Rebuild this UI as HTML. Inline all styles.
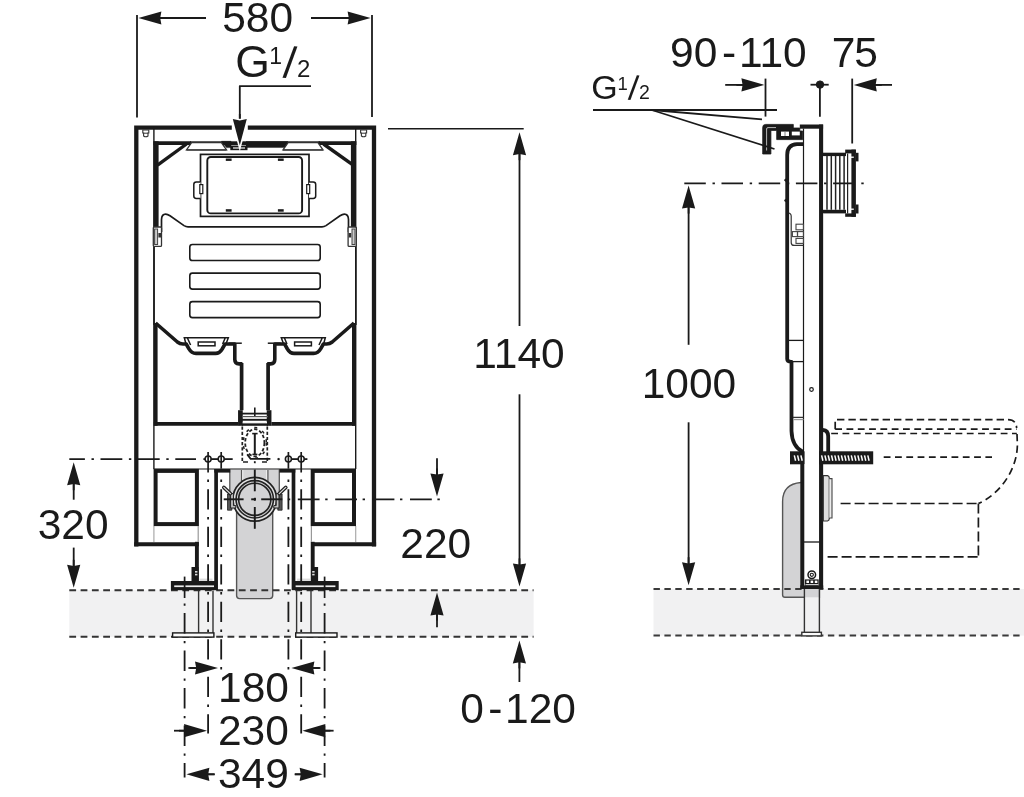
<!DOCTYPE html>
<html lang="en">
<head>
<meta charset="utf-8">
<title>Technical drawing</title>
<style>
html,body{margin:0;padding:0;background:#fff;}
body{width:1024px;height:797px;overflow:hidden;}
svg{display:block;will-change:transform;}
svg text{font-family:"Liberation Sans",sans-serif;fill:#1a1a1a;}
</style>
</head>
<body>
<svg width="1024" height="797" viewBox="0 0 1024 797">
<rect x="0" y="0" width="1024" height="797" fill="#ffffff"/>
<rect x="69.3" y="590.2" width="464.3" height="46.6" fill="#f1f1f2"/>
<rect x="229.6" y="469.5" width="49.8" height="40" fill="#d3d3d5"/>
<line x1="229.8" y1="469.5" x2="229.8" y2="509" stroke="#555" stroke-width="1.3" stroke-linecap="butt"/>
<line x1="279.3" y1="469.5" x2="279.3" y2="509" stroke="#555" stroke-width="1.3" stroke-linecap="butt"/>
<path d="M236.6,500 L236.6,595.6 Q236.6,598.6 239.6,598.6 L269.7,598.6 Q272.7,598.6 272.7,595.6 L272.7,500" fill="#d3d3d5" stroke="#555" stroke-width="1.4" stroke-linejoin="miter" stroke-linecap="butt"/>
<line x1="241.5" y1="470" x2="241.5" y2="483" stroke="#555" stroke-width="1.2" stroke-linecap="butt"/>
<line x1="267.9" y1="470" x2="267.9" y2="483" stroke="#555" stroke-width="1.2" stroke-linecap="butt"/>
<line x1="242.8" y1="470" x2="242.8" y2="482" stroke="#f0f0f0" stroke-width="1" stroke-linecap="butt"/>
<line x1="266.6" y1="470" x2="266.6" y2="482" stroke="#f0f0f0" stroke-width="1" stroke-linecap="butt"/>
<line x1="69.3" y1="590.2" x2="533.6" y2="590.2" stroke="#333" stroke-width="2" stroke-dasharray="6.8 4.5" stroke-linecap="butt"/>
<line x1="69.3" y1="636.8" x2="533.6" y2="636.8" stroke="#333" stroke-width="2" stroke-dasharray="6.8 4.5" stroke-linecap="butt"/>
<path d="M136.3,546.4 L136.3,127.6 L374,127.6 L374,546.4" fill="none" stroke="#1a1a1a" stroke-width="4.3" stroke-linejoin="miter" stroke-linecap="butt"/>
<line x1="153.9" y1="129" x2="153.9" y2="469" stroke="#1a1a1a" stroke-width="1.4" stroke-linecap="butt"/>
<line x1="355.7" y1="129" x2="355.7" y2="469" stroke="#1a1a1a" stroke-width="1.4" stroke-linecap="butt"/>
<line x1="153.9" y1="526" x2="153.9" y2="542" stroke="#aaa" stroke-width="1.2" stroke-linecap="butt"/>
<line x1="355.7" y1="526" x2="355.7" y2="542" stroke="#aaa" stroke-width="1.2" stroke-linecap="butt"/>
<line x1="134.2" y1="544.3" x2="198.8" y2="544.3" stroke="#1a1a1a" stroke-width="4" stroke-linecap="butt"/>
<line x1="376.1" y1="544.3" x2="311" y2="544.3" stroke="#1a1a1a" stroke-width="4" stroke-linecap="butt"/>
<line x1="388" y1="128.8" x2="523.7" y2="128.8" stroke="#1a1a1a" stroke-width="1.6" stroke-linecap="butt"/>
<path d="M142.8,130 L148.8,130 L148.8,133 L148.0,133 L148.0,136 Q145.8,137.6 143.60000000000002,136 L143.60000000000002,133 L142.8,133 Z" fill="#fff" stroke="#333" stroke-width="1.1" stroke-linejoin="miter" stroke-linecap="butt"/>
<line x1="143.60000000000002" y1="133.2" x2="148.0" y2="133.2" stroke="#333" stroke-width="1" stroke-linecap="butt"/>
<path d="M360.6,130 L366.6,130 L366.6,133 L365.8,133 L365.8,136 Q363.6,137.6 361.40000000000003,136 L361.40000000000003,133 L360.6,133 Z" fill="#fff" stroke="#333" stroke-width="1.1" stroke-linejoin="miter" stroke-linecap="butt"/>
<line x1="361.40000000000003" y1="133.2" x2="365.8" y2="133.2" stroke="#333" stroke-width="1" stroke-linecap="butt"/>
<line x1="153.5" y1="143.2" x2="191" y2="143.2" stroke="#1a1a1a" stroke-width="3.8" stroke-linecap="butt"/>
<line x1="318.6" y1="143.2" x2="356.4" y2="143.2" stroke="#1a1a1a" stroke-width="3.8" stroke-linecap="butt"/>
<line x1="156.05" y1="141.3" x2="156.05" y2="227" stroke="#1a1a1a" stroke-width="5.1" stroke-linecap="butt"/>
<line x1="353.45" y1="141.3" x2="353.45" y2="227" stroke="#1a1a1a" stroke-width="5.1" stroke-linecap="butt"/>
<line x1="157.5" y1="165.2" x2="186.5" y2="144" stroke="#1a1a1a" stroke-width="3.4" stroke-linecap="butt"/>
<line x1="352.5" y1="164.6" x2="323.5" y2="144" stroke="#1a1a1a" stroke-width="3.4" stroke-linecap="butt"/>
<rect x="190" y="141.3" width="130" height="3.8" fill="#1a1a1a"/>
<path d="M221.4,141.3 L231,141.3 L231,147.6 L226.5,147.6 Z" fill="#1a1a1a" stroke="#1a1a1a" stroke-width="0.5" stroke-linejoin="miter" stroke-linecap="butt"/>
<rect x="246" y="141.3" width="42" height="6.4" fill="#1a1a1a"/>
<path d="M283,149.8 L288.1,142.6 L317.9,142.6 L323,149.8 Z" fill="#fff" stroke="#333" stroke-width="1.3" stroke-linejoin="miter" stroke-linecap="butt"/>
<path d="M186.5,149.8 L191.6,142.6 L221.4,142.6 L226.5,149.8 Z" fill="#fff" stroke="#333" stroke-width="1.3" stroke-linejoin="miter" stroke-linecap="butt"/>
<line x1="186.5" y1="150" x2="226.5" y2="150" stroke="#444" stroke-width="1.5" stroke-linecap="butt"/>
<line x1="283" y1="150" x2="323" y2="150" stroke="#444" stroke-width="1.5" stroke-linecap="butt"/>
<rect x="231.8" y="124.5" width="16" height="6" fill="#fff"/>
<rect x="230.3" y="145.6" width="17.2" height="4.6" fill="#1a1a1a"/>
<rect x="233" y="147.2" width="12" height="1.6" fill="#bbb"/>
<rect x="200.5" y="154.4" width="108.5" height="62" fill="#fff" stroke="#1a1a1a" stroke-width="1.7"/>
<rect x="207.3" y="157" width="94.8" height="56.4" fill="#fff" stroke="#1a1a1a" stroke-width="1.9" rx="3.5"/>
<rect x="225.8" y="158.5" width="5.8" height="2.4" fill="#1a1a1a"/>
<rect x="225.8" y="209.2" width="5.8" height="2.5" fill="#1a1a1a"/>
<rect x="277.9" y="158.5" width="5.8" height="2.4" fill="#1a1a1a"/>
<rect x="277.9" y="209.2" width="5.8" height="2.5" fill="#1a1a1a"/>
<path d="M200.5,182 L196.3,182 Q193.8,182 193.8,184.5 L193.8,196 Q193.8,198.4 196.3,198.4 L200.5,198.4" fill="#fff" stroke="#1a1a1a" stroke-width="1.5" stroke-linejoin="miter" stroke-linecap="butt"/>
<rect x="199.8" y="184.6" width="3" height="9" fill="#fff" stroke="#1a1a1a" stroke-width="1.2"/>
<path d="M309.0,182 L313.2,182 Q315.7,182 315.7,184.5 L315.7,196 Q315.7,198.4 313.2,198.4 L309.0,198.4" fill="#fff" stroke="#1a1a1a" stroke-width="1.5" stroke-linejoin="miter" stroke-linecap="butt"/>
<rect x="306.7" y="184.6" width="3" height="9" fill="#fff" stroke="#1a1a1a" stroke-width="1.2"/>
<path d="M161.5,232 L161.5,219.5 Q161.7,214.1 165.6,214.1 Q167.6,214.1 170,215.8 L184,225.6 Q185.9,226.8 188,226.8 L322,226.8 Q324.1,226.8 326,225.6 L340,215.8 Q342.4,214.1 344.4,214.1 Q348.3,214.1 348.5,219.5 L348.5,232" fill="none" stroke="#1a1a1a" stroke-width="1.7" stroke-linejoin="miter" stroke-linecap="butt"/>
<line x1="154.1" y1="227" x2="154.1" y2="325" stroke="#1a1a1a" stroke-width="1.5" stroke-linecap="butt"/>
<line x1="355.9" y1="227" x2="355.9" y2="325" stroke="#1a1a1a" stroke-width="1.5" stroke-linecap="butt"/>
<rect x="153.3" y="227" width="8.2" height="19.4" fill="#fff" stroke="#333" stroke-width="1.3" rx="1"/>
<rect x="154.6" y="229" width="3" height="15.5" fill="#ccc" stroke="#444" stroke-width="1"/>
<rect x="158.4" y="233" width="2.6" height="4.5" fill="#333"/>
<rect x="348.1" y="227" width="8.2" height="19.4" fill="#fff" stroke="#333" stroke-width="1.3" rx="1"/>
<rect x="352.0" y="229" width="3" height="15.5" fill="#ccc" stroke="#444" stroke-width="1"/>
<rect x="348.6" y="233" width="2.6" height="4.5" fill="#333"/>
<rect x="189.8" y="244.5" width="130.4" height="16" fill="none" stroke="#1a1a1a" stroke-width="1.6" rx="2.6"/>
<rect x="189.8" y="273.1" width="130.4" height="16" fill="none" stroke="#1a1a1a" stroke-width="1.6" rx="2.6"/>
<rect x="189.8" y="301.6" width="130.4" height="16" fill="none" stroke="#1a1a1a" stroke-width="1.6" rx="2.6"/>
<line x1="155.7" y1="323" x2="155.7" y2="425.8" stroke="#1a1a1a" stroke-width="3.8" stroke-linecap="butt"/>
<line x1="353.9" y1="323" x2="353.9" y2="425.8" stroke="#1a1a1a" stroke-width="3.8" stroke-linecap="butt"/>
<line x1="153.8" y1="423.9" x2="240" y2="423.9" stroke="#1a1a1a" stroke-width="3.8" stroke-linecap="butt"/>
<line x1="355.8" y1="423.9" x2="269.6" y2="423.9" stroke="#1a1a1a" stroke-width="3.8" stroke-linecap="butt"/>
<path d="M155.6,323 L177.4,342 Q179.8,344 183,344 L186.2,344 L188.8,348.6 Q191.6,353.4 196,353.4 L215.6,353.4 Q219.6,353.4 222.2,349 L225,344 L234.8,344 L234.8,359.6 Q234.8,363.9 239,363.9 L242.4,363.9" fill="none" stroke="#1a1a1a" stroke-width="3.6" stroke-linejoin="round" stroke-linecap="butt"/>
<path d="M354.0,323 L332.20000000000005,342 Q329.8,344 326.6,344 L323.40000000000003,344 L320.8,348.6 Q318.0,353.4 313.6,353.4 L294.0,353.4 Q290.0,353.4 287.40000000000003,349 L284.6,344 L274.8,344 L274.8,359.6 Q274.8,363.9 270.6,363.9 L267.20000000000005,363.9" fill="none" stroke="#1a1a1a" stroke-width="3.6" stroke-linejoin="round" stroke-linecap="butt"/>
<path d="M186,344 L184.3,337.8 L228.3,337.8 L226,344 M187.4,338 L190.6,345 M225.2,338 L222.6,344" fill="none" stroke="#1a1a1a" stroke-width="1.5" stroke-linejoin="miter" stroke-linecap="butt"/>
<rect x="198.2" y="342" width="16.8" height="3.8" fill="#fff" stroke="#1a1a1a" stroke-width="1.5"/>
<line x1="228.9" y1="343.2" x2="241.8" y2="343.2" stroke="#1a1a1a" stroke-width="1.5" stroke-linecap="butt"/>
<path d="M323.6,344 L325.3,337.8 L281.3,337.8 L283.6,344 M322.20000000000005,338 L319.0,345 M284.40000000000003,338 L287.0,344" fill="none" stroke="#1a1a1a" stroke-width="1.5" stroke-linejoin="miter" stroke-linecap="butt"/>
<rect x="294.6" y="342" width="16.8" height="3.8" fill="#fff" stroke="#1a1a1a" stroke-width="1.5"/>
<line x1="280.70000000000005" y1="343.2" x2="267.8" y2="343.2" stroke="#1a1a1a" stroke-width="1.5" stroke-linecap="butt"/>
<line x1="241.6" y1="363" x2="241.6" y2="411" stroke="#1a1a1a" stroke-width="3.7" stroke-linecap="butt"/>
<line x1="268.1" y1="363" x2="268.1" y2="411" stroke="#1a1a1a" stroke-width="3.7" stroke-linecap="butt"/>
<rect x="238.1" y="410.2" width="33.3" height="15.6" fill="#fff"/>
<line x1="240.4" y1="410.2" x2="240.4" y2="425.8" stroke="#1a1a1a" stroke-width="4.7" stroke-linecap="butt"/>
<line x1="269.1" y1="410.2" x2="269.1" y2="425.8" stroke="#1a1a1a" stroke-width="4.7" stroke-linecap="butt"/>
<line x1="242" y1="413.6" x2="268" y2="413.6" stroke="#1a1a1a" stroke-width="1.8" stroke-linecap="butt"/>
<line x1="242" y1="416.6" x2="268" y2="416.6" stroke="#555" stroke-width="1.2" stroke-linecap="butt"/>
<line x1="242" y1="419.8" x2="268" y2="419.8" stroke="#1a1a1a" stroke-width="1.9" stroke-linecap="butt"/>
<line x1="242" y1="423.9" x2="268" y2="423.9" stroke="#1a1a1a" stroke-width="3.8" stroke-linecap="butt"/>
<line x1="242.6" y1="422.7" x2="267" y2="422.7" stroke="#fff" stroke-width="1.3" stroke-linecap="butt"/>
<line x1="254.8" y1="407.5" x2="254.8" y2="416" stroke="#1a1a1a" stroke-width="1.6" stroke-linecap="butt"/>
<path d="M242.3,426.5 L242.3,462.2 M267.3,426.5 L267.3,462.2" fill="none" stroke="#222" stroke-width="1.7" stroke-linejoin="miter" stroke-linecap="butt" stroke-dasharray="3.2 2"/>
<line x1="243" y1="462" x2="248" y2="462" stroke="#222" stroke-width="1.5" stroke-linecap="butt"/>
<line x1="262" y1="462" x2="267" y2="462" stroke="#222" stroke-width="1.5" stroke-linecap="butt"/>
<ellipse cx="254.8" cy="442.8" rx="9.6" ry="13.6" fill="none" stroke="#222" stroke-width="1.8" stroke-dasharray="3.4 2"/>
<ellipse cx="254.8" cy="442.8" rx="11.6" ry="15.4" fill="none" stroke="#222" stroke-width="1.5" stroke-dasharray="3 6"/>
<line x1="254.8" y1="433.3" x2="254.8" y2="454" stroke="#1a1a1a" stroke-width="2" stroke-linecap="butt"/>
<line x1="252.2" y1="433.6" x2="257.6" y2="433.6" stroke="#1a1a1a" stroke-width="1.6" stroke-linecap="butt"/>
<line x1="252.4" y1="454.4" x2="257.4" y2="454.4" stroke="#1a1a1a" stroke-width="1.6" stroke-linecap="butt"/>
<path d="M247.4,454.6 L250.6,458.9 L270.4,458.9" fill="none" stroke="#1a1a1a" stroke-width="1.8" stroke-linejoin="miter" stroke-linecap="butt"/>
<line x1="254.8" y1="461.2" x2="254.8" y2="463.2" stroke="#1a1a1a" stroke-width="1.8" stroke-linecap="butt"/>
<line x1="54" y1="459.1" x2="196" y2="459.1" stroke="#1a1a1a" stroke-width="1.7" stroke-dasharray="2.4 6.6 21.8 6.6" stroke-dashoffset="-0.1"/>
<rect x="50" y="455" width="19.3" height="8" fill="#fff"/>
<line x1="203.4" y1="459.1" x2="232.7" y2="459.1" stroke="#1a1a1a" stroke-width="1.8" stroke-linecap="butt"/>
<line x1="284.9" y1="459.1" x2="307.4" y2="459.1" stroke="#1a1a1a" stroke-width="1.8" stroke-linecap="butt"/>
<circle cx="278.6" cy="459.1" r="1.2" fill="#1a1a1a" stroke="#1a1a1a" stroke-width="0.1"/>
<circle cx="208.1" cy="459.1" r="3.0" fill="#fff" stroke="#1a1a1a" stroke-width="1.5"/>
<line x1="208.1" y1="452" x2="208.1" y2="472.5" stroke="#1a1a1a" stroke-width="1.7" stroke-linecap="butt"/>
<circle cx="221.2" cy="459.1" r="3.0" fill="#fff" stroke="#1a1a1a" stroke-width="1.5"/>
<line x1="221.2" y1="452" x2="221.2" y2="468.7" stroke="#1a1a1a" stroke-width="1.7" stroke-linecap="butt"/>
<circle cx="288.4" cy="459.1" r="3.0" fill="#fff" stroke="#1a1a1a" stroke-width="1.5"/>
<line x1="288.4" y1="452" x2="288.4" y2="468.7" stroke="#1a1a1a" stroke-width="1.7" stroke-linecap="butt"/>
<circle cx="301.2" cy="459.1" r="3.0" fill="#fff" stroke="#1a1a1a" stroke-width="1.5"/>
<line x1="301.2" y1="452" x2="301.2" y2="472.5" stroke="#1a1a1a" stroke-width="1.7" stroke-linecap="butt"/>
<line x1="153.8" y1="469" x2="355.8" y2="469" stroke="#1a1a1a" stroke-width="1.2" stroke-linecap="butt"/>
<rect x="155.6" y="470.9" width="41.3" height="53.2" fill="none" stroke="#1a1a1a" stroke-width="4"/>
<line x1="196.9" y1="541.8" x2="196.9" y2="582" stroke="#1a1a1a" stroke-width="3.9" stroke-linecap="butt"/>
<line x1="198.2" y1="526" x2="198.2" y2="542" stroke="#999" stroke-width="1.2" stroke-linecap="butt"/>
<line x1="216.1" y1="469" x2="216.1" y2="590" stroke="#1a1a1a" stroke-width="3.7" stroke-linecap="butt"/>
<line x1="214.3" y1="470.8" x2="230.2" y2="470.8" stroke="#1a1a1a" stroke-width="3.6" stroke-linecap="butt"/>
<rect x="191.5" y="567" width="7.1" height="15" fill="#1a1a1a"/>
<rect x="195" y="571" width="2.4" height="1.6" fill="#ddd"/>
<rect x="195" y="573.8" width="2.4" height="1.6" fill="#ddd"/>
<rect x="170.9" y="581" width="46.5" height="9.2" fill="#1a1a1a"/>
<rect x="174.2" y="585.4" width="39.8" height="1.7" fill="#eee"/>
<rect x="199.5" y="578.6" width="13" height="2.4" fill="#ddd"/>
<line x1="198.6" y1="590.5" x2="198.6" y2="633" stroke="#333" stroke-width="1.4" stroke-linecap="butt"/>
<line x1="213" y1="590.5" x2="213" y2="633" stroke="#333" stroke-width="1.4" stroke-linecap="butt"/>
<rect x="172.6" y="632.9" width="41.3" height="4.2" fill="#fafafa" stroke="#1a1a1a" stroke-width="1.4"/>
<rect x="312.70000000000005" y="470.9" width="41.3" height="53.2" fill="none" stroke="#1a1a1a" stroke-width="4"/>
<line x1="312.70000000000005" y1="541.8" x2="312.70000000000005" y2="582" stroke="#1a1a1a" stroke-width="3.9" stroke-linecap="butt"/>
<line x1="311.40000000000003" y1="526" x2="311.40000000000003" y2="542" stroke="#999" stroke-width="1.2" stroke-linecap="butt"/>
<line x1="293.5" y1="469" x2="293.5" y2="590" stroke="#1a1a1a" stroke-width="3.7" stroke-linecap="butt"/>
<line x1="295.3" y1="470.8" x2="279.40000000000003" y2="470.8" stroke="#1a1a1a" stroke-width="3.6" stroke-linecap="butt"/>
<rect x="311.0" y="567" width="7.1" height="15" fill="#1a1a1a"/>
<rect x="312.20000000000005" y="571" width="2.4" height="1.6" fill="#ddd"/>
<rect x="312.20000000000005" y="573.8" width="2.4" height="1.6" fill="#ddd"/>
<rect x="292.20000000000005" y="581" width="46.5" height="9.2" fill="#1a1a1a"/>
<rect x="295.6" y="585.4" width="39.8" height="1.7" fill="#eee"/>
<rect x="297.1" y="578.6" width="13" height="2.4" fill="#ddd"/>
<line x1="311.0" y1="590.5" x2="311.0" y2="633" stroke="#333" stroke-width="1.4" stroke-linecap="butt"/>
<line x1="296.6" y1="590.5" x2="296.6" y2="633" stroke="#333" stroke-width="1.4" stroke-linecap="butt"/>
<rect x="295.70000000000005" y="632.9" width="41.3" height="4.2" fill="#fafafa" stroke="#1a1a1a" stroke-width="1.4"/>
<circle cx="254.75" cy="499.3" r="21.9" fill="#e2e2e3" stroke="#222" stroke-width="1.7"/>
<circle cx="254.75" cy="499.3" r="18.7" fill="#d0d0d2" stroke="#222" stroke-width="1.6"/>
<circle cx="254.75" cy="499.3" r="16.1" fill="#d3d3d5" stroke="#222" stroke-width="1.6"/>
<path d="M227.5,494 L231.8,494 L231.8,510.2 L227.5,510.2 Z" fill="#555" stroke="#222" stroke-width="0.8" stroke-linejoin="miter" stroke-linecap="butt"/>
<path d="M230.6,493.6 L233.4,493.6 L233.4,505.6 L235.8,505.6 L235.8,508 L230.6,508 Z" fill="#c4c4c4" stroke="#222" stroke-width="1" stroke-linejoin="miter" stroke-linecap="butt"/>
<line x1="223.8" y1="487.4" x2="230.4" y2="493.6" stroke="#222" stroke-width="3.6" stroke-linecap="round"/>
<line x1="223.8" y1="487.4" x2="230.4" y2="493.6" stroke="#ddd" stroke-width="1.3" stroke-linecap="round"/>
<path d="M282.1,494 L277.8,494 L277.8,510.2 L282.1,510.2 Z" fill="#555" stroke="#222" stroke-width="0.8" stroke-linejoin="miter" stroke-linecap="butt"/>
<path d="M279.0,493.6 L276.20000000000005,493.6 L276.20000000000005,505.6 L273.8,505.6 L273.8,508 L279.0,508 Z" fill="#c4c4c4" stroke="#222" stroke-width="1" stroke-linejoin="miter" stroke-linecap="butt"/>
<line x1="285.8" y1="487.4" x2="279.20000000000005" y2="493.6" stroke="#222" stroke-width="3.6" stroke-linecap="round"/>
<line x1="285.8" y1="487.4" x2="279.20000000000005" y2="493.6" stroke="#ddd" stroke-width="1.3" stroke-linecap="round"/>
<line x1="254.8" y1="469.6" x2="254.8" y2="491.3" stroke="#1a1a1a" stroke-width="1.9" stroke-linecap="butt"/>
<line x1="254.8" y1="497.8" x2="254.8" y2="500.8" stroke="#1a1a1a" stroke-width="1.9" stroke-linecap="butt"/>
<line x1="254.8" y1="507" x2="254.8" y2="528.8" stroke="#1a1a1a" stroke-width="1.9" stroke-linecap="butt"/>
<line x1="223.7" y1="499.3" x2="243.6" y2="499.3" stroke="#1a1a1a" stroke-width="1.9" stroke-linecap="butt"/>
<line x1="251.2" y1="499.3" x2="256" y2="499.3" stroke="#1a1a1a" stroke-width="1.9" stroke-linecap="butt"/>
<line x1="261.2" y1="499.3" x2="282.3" y2="499.3" stroke="#1a1a1a" stroke-width="1.9" stroke-linecap="butt"/>
<line x1="287.8" y1="499.3" x2="440" y2="499.3" stroke="#1a1a1a" stroke-width="1.7" stroke-dasharray="2.4 7.6 21.8 5.6"/>
<line x1="208.1" y1="479.5" x2="208.1" y2="733.5" stroke="#1a1a1a" stroke-width="1.8" stroke-dasharray="2.4 7.3 20.4 7.4"/>
<line x1="301.2" y1="479.5" x2="301.2" y2="733.5" stroke="#1a1a1a" stroke-width="1.8" stroke-dasharray="2.4 7.3 20.4 7.4"/>
<line x1="221.2" y1="479.5" x2="221.2" y2="669.5" stroke="#1a1a1a" stroke-width="1.8" stroke-dasharray="2.4 7.3 20.4 7.4"/>
<line x1="288.4" y1="479.5" x2="288.4" y2="669.5" stroke="#1a1a1a" stroke-width="1.8" stroke-dasharray="2.4 7.3 20.4 7.4"/>
<line x1="184.6" y1="576.6" x2="184.6" y2="598" stroke="#1a1a1a" stroke-width="1.7" stroke-linecap="butt"/>
<line x1="184.6" y1="603.4" x2="184.6" y2="777.6" stroke="#1a1a1a" stroke-width="1.8" stroke-dasharray="2.4 7.3 20.4 7.4"/>
<line x1="324.6" y1="576.6" x2="324.6" y2="598" stroke="#1a1a1a" stroke-width="1.7" stroke-linecap="butt"/>
<line x1="324.6" y1="603.4" x2="324.6" y2="777.6" stroke="#1a1a1a" stroke-width="1.8" stroke-dasharray="2.4 7.3 20.4 7.4"/>
<line x1="137" y1="15" x2="137" y2="117.5" stroke="#1a1a1a" stroke-width="1.8" stroke-linecap="butt"/>
<line x1="372" y1="15" x2="372" y2="117" stroke="#1a1a1a" stroke-width="1.8" stroke-linecap="butt"/>
<line x1="160" y1="18" x2="206" y2="18" stroke="#1a1a1a" stroke-width="1.8" stroke-linecap="butt"/>
<line x1="158.40" y1="18.00" x2="166.40" y2="18.00" stroke="#1a1a1a" stroke-width="1.8"/>
<polygon points="138.40,18.00 161.40,11.40 160.20,18.00 161.40,24.60" fill="#1a1a1a"/>
<line x1="311" y1="18" x2="350" y2="18" stroke="#1a1a1a" stroke-width="1.8" stroke-linecap="butt"/>
<line x1="350.60" y1="18.00" x2="342.60" y2="18.00" stroke="#1a1a1a" stroke-width="1.8"/>
<polygon points="370.60,18.00 347.60,24.60 348.80,18.00 347.60,11.40" fill="#1a1a1a"/>
<text x="257.70" y="32.28" font-size="42.5" text-anchor="middle">580</text>
<line x1="239.1" y1="86.1" x2="311" y2="86.1" stroke="#1a1a1a" stroke-width="1.8" stroke-linecap="butt"/>
<line x1="239.8" y1="86" x2="239.8" y2="122" stroke="#1a1a1a" stroke-width="1.8" stroke-linecap="butt"/>
<line x1="239.80" y1="122.00" x2="239.80" y2="114.00" stroke="#1a1a1a" stroke-width="1.8"/>
<polygon points="239.80,145.30 232.80,119.00 239.80,120.50 246.80,119.00" fill="#1a1a1a" stroke="#fff" stroke-width="3.2" paint-order="stroke" stroke-linejoin="miter"/>
<text x="235.3" y="77.2" font-size="44.5">G<tspan font-size="23" dy="-12.9" dx="-0.6">1</tspan><tspan font-size="44" dy="13" dx="0.4" rotate="5">/</tspan><tspan font-size="24" dy="-0.5" dx="2.2">2</tspan></text>
<line x1="519.5" y1="150" x2="519.5" y2="326" stroke="#1a1a1a" stroke-width="1.8" stroke-linecap="butt"/>
<line x1="519.50" y1="152.20" x2="519.50" y2="160.20" stroke="#1a1a1a" stroke-width="1.8"/>
<polygon points="519.50,132.20 526.10,155.20 519.50,154.00 512.90,155.20" fill="#1a1a1a"/>
<line x1="519.5" y1="394.3" x2="519.5" y2="566" stroke="#1a1a1a" stroke-width="1.8" stroke-linecap="butt"/>
<line x1="519.50" y1="566.40" x2="519.50" y2="558.40" stroke="#1a1a1a" stroke-width="1.8"/>
<polygon points="519.50,586.40 512.90,563.40 519.50,564.60 526.10,563.40" fill="#1a1a1a"/>
<text x="519.05" y="368.36" font-size="42.5" text-anchor="middle">1140</text>
<line x1="73.7" y1="480" x2="73.7" y2="499.7" stroke="#1a1a1a" stroke-width="1.8" stroke-linecap="butt"/>
<line x1="73.70" y1="482.20" x2="73.70" y2="490.20" stroke="#1a1a1a" stroke-width="1.8"/>
<polygon points="73.70,462.20 80.30,485.20 73.70,484.00 67.10,485.20" fill="#1a1a1a"/>
<line x1="73.7" y1="547.6" x2="73.7" y2="568" stroke="#1a1a1a" stroke-width="1.8" stroke-linecap="butt"/>
<line x1="73.70" y1="567.80" x2="73.70" y2="559.80" stroke="#1a1a1a" stroke-width="1.8"/>
<polygon points="73.70,587.80 67.10,564.80 73.70,566.00 80.30,564.80" fill="#1a1a1a"/>
<text x="73.10" y="539.14" font-size="42.5" text-anchor="middle">320</text>
<line x1="437" y1="458.2" x2="437" y2="476" stroke="#1a1a1a" stroke-width="1.8" stroke-linecap="butt"/>
<line x1="437.00" y1="476.40" x2="437.00" y2="468.40" stroke="#1a1a1a" stroke-width="1.8"/>
<polygon points="437.00,496.40 430.40,473.40 437.00,474.60 443.60,473.40" fill="#1a1a1a"/>
<line x1="437" y1="611" x2="437" y2="627.2" stroke="#1a1a1a" stroke-width="1.8" stroke-linecap="butt"/>
<line x1="437.00" y1="612.60" x2="437.00" y2="620.60" stroke="#1a1a1a" stroke-width="1.8"/>
<polygon points="437.00,592.60 443.60,615.60 437.00,614.40 430.40,615.60" fill="#1a1a1a"/>
<text x="435.80" y="558.28" font-size="42.5" text-anchor="middle">220</text>
<line x1="519.4" y1="660" x2="519.4" y2="682" stroke="#1a1a1a" stroke-width="1.8" stroke-linecap="butt"/>
<line x1="519.40" y1="660.40" x2="519.40" y2="668.40" stroke="#1a1a1a" stroke-width="1.8"/>
<polygon points="519.40,640.40 526.00,663.40 519.40,662.20 512.80,663.40" fill="#1a1a1a"/>
<text y="722.6" font-size="42.5"><tspan x="460.3">0</tspan><tspan x="488.3">-</tspan><tspan x="505">120</tspan></text>
<line x1="188.4" y1="668" x2="200" y2="668" stroke="#1a1a1a" stroke-width="1.8" stroke-linecap="butt"/>
<line x1="198.00" y1="668.00" x2="190.00" y2="668.00" stroke="#1a1a1a" stroke-width="1.8"/>
<polygon points="218.00,668.00 195.00,674.60 196.20,668.00 195.00,661.40" fill="#1a1a1a"/>
<line x1="309" y1="668" x2="320.4" y2="668" stroke="#1a1a1a" stroke-width="1.8" stroke-linecap="butt"/>
<line x1="311.40" y1="668.00" x2="319.40" y2="668.00" stroke="#1a1a1a" stroke-width="1.8"/>
<polygon points="291.40,668.00 314.40,661.40 313.20,668.00 314.40,674.60" fill="#1a1a1a"/>
<text x="253.50" y="702.14" font-size="42.5" text-anchor="middle">180</text>
<line x1="174" y1="730.7" x2="188" y2="730.7" stroke="#1a1a1a" stroke-width="1.8" stroke-linecap="butt"/>
<line x1="187.00" y1="730.70" x2="179.00" y2="730.70" stroke="#1a1a1a" stroke-width="1.8"/>
<polygon points="207.00,730.70 184.00,737.30 185.20,730.70 184.00,724.10" fill="#1a1a1a"/>
<line x1="321" y1="730.7" x2="333.6" y2="730.7" stroke="#1a1a1a" stroke-width="1.8" stroke-linecap="butt"/>
<line x1="322.40" y1="730.70" x2="330.40" y2="730.70" stroke="#1a1a1a" stroke-width="1.8"/>
<polygon points="302.40,730.70 325.40,724.10 324.20,730.70 325.40,737.30" fill="#1a1a1a"/>
<text x="253.40" y="745.42" font-size="42.5" text-anchor="middle">230</text>
<line x1="205" y1="774.3" x2="214.8" y2="774.3" stroke="#1a1a1a" stroke-width="1.8" stroke-linecap="butt"/>
<line x1="206.40" y1="774.30" x2="214.40" y2="774.30" stroke="#1a1a1a" stroke-width="1.8"/>
<polygon points="186.40,774.30 209.40,767.70 208.20,774.30 209.40,780.90" fill="#1a1a1a"/>
<line x1="295" y1="774.3" x2="304" y2="774.3" stroke="#1a1a1a" stroke-width="1.8" stroke-linecap="butt"/>
<line x1="302.60" y1="774.30" x2="294.60" y2="774.30" stroke="#1a1a1a" stroke-width="1.8"/>
<polygon points="322.60,774.30 299.60,780.90 300.80,774.30 299.60,767.70" fill="#1a1a1a"/>
<text x="253.40" y="788.42" font-size="42.5" text-anchor="middle">349</text>
<rect x="653.5" y="589" width="370.5" height="46.6" fill="#f1f1f2"/>
<path d="M782.6,595 L782.6,501.5 Q782.6,484 801,482.5 L819.4,482.5 L819.4,597.3 L785,597.3 Q782.6,597.3 782.6,595 Z" fill="#d3d3d5" stroke="#555" stroke-width="1.4" stroke-linejoin="miter" stroke-linecap="butt"/>
<line x1="653.5" y1="589" x2="1024" y2="589" stroke="#3a3a3a" stroke-width="2" stroke-dasharray="6.4 4.5" stroke-linecap="butt"/>
<line x1="653.5" y1="635.6" x2="1024" y2="635.6" stroke="#3a3a3a" stroke-width="2" stroke-dasharray="6.4 4.5" stroke-linecap="butt"/>
<rect x="804.2" y="589" width="15.4" height="43.5" fill="#f1f1f2"/>
<rect x="804.2" y="589" width="15.4" height="8.3" fill="#d3d3d5"/>
<line x1="804.4" y1="589" x2="804.4" y2="632.5" stroke="#333" stroke-width="1.4" stroke-linecap="butt"/>
<line x1="819.4" y1="589" x2="819.4" y2="632.5" stroke="#333" stroke-width="1.4" stroke-linecap="butt"/>
<rect x="801.8" y="632.3" width="19.6" height="3.6" fill="#fafafa" stroke="#333" stroke-width="1.4"/>
<rect x="802" y="129" width="18.5" height="457" fill="#fff"/>
<line x1="821.1" y1="124.4" x2="821.1" y2="589" stroke="#1a1a1a" stroke-width="4.1" stroke-linecap="butt"/>
<line x1="799.8" y1="126.6" x2="823.1" y2="126.6" stroke="#1a1a1a" stroke-width="4.2" stroke-linecap="butt"/>
<line x1="803.5" y1="128.6" x2="803.5" y2="452" stroke="#1a1a1a" stroke-width="1.2" stroke-linecap="butt"/>
<line x1="802.3" y1="464" x2="802.3" y2="589" stroke="#1a1a1a" stroke-width="4" stroke-linecap="butt"/>
<line x1="800.3" y1="587.2" x2="823.2" y2="587.2" stroke="#1a1a1a" stroke-width="3.6" stroke-linecap="butt"/>
<line x1="804" y1="542" x2="819.4" y2="542" stroke="#1a1a1a" stroke-width="1.3" stroke-linecap="butt"/>
<circle cx="811.5" cy="389.5" r="1.8" fill="#fff" stroke="#1a1a1a" stroke-width="1.2"/>
<path d="M803,144.2 L797,144.2 Q787.2,144.6 787.2,155 L787.2,359 Q787.2,361.6 791.5,362 L791.5,431 Q792,446.5 803,452" fill="none" stroke="#1a1a1a" stroke-width="3.8" stroke-linejoin="round" stroke-linecap="butt"/>
<line x1="789" y1="340.4" x2="803.5" y2="340.4" stroke="#1a1a1a" stroke-width="1.3" stroke-linecap="butt"/>
<line x1="791" y1="361.6" x2="803.5" y2="361.6" stroke="#1a1a1a" stroke-width="1.3" stroke-linecap="butt"/>
<line x1="793" y1="417.4" x2="803.5" y2="417.4" stroke="#333" stroke-width="1.3" stroke-linecap="butt"/>
<line x1="793" y1="419.6" x2="803.5" y2="419.6" stroke="#999" stroke-width="1.2" stroke-linecap="butt"/>
<circle cx="785.7" cy="180.2" r="1.1" fill="#1a1a1a" stroke="#1a1a1a" stroke-width="0.8"/>
<circle cx="785.7" cy="200.5" r="1.1" fill="#1a1a1a" stroke="#1a1a1a" stroke-width="0.8"/>
<path d="M789,213 L790.2,213.8 Q791.2,214.6 791.2,216 L791.2,242.4 Q791.2,245.4 794.2,245.4 L803.5,245.4" fill="none" stroke="#333" stroke-width="1.2" stroke-linejoin="miter" stroke-linecap="butt"/>
<rect x="796" y="224.2" width="7.5" height="5.6" fill="none" stroke="#444" stroke-width="1.1"/>
<rect x="792.4" y="231.6" width="5" height="5" fill="none" stroke="#444" stroke-width="1.1"/>
<rect x="797.6" y="231.6" width="5.9" height="5" fill="none" stroke="#444" stroke-width="1.1"/>
<rect x="796" y="238.4" width="7.5" height="5" fill="none" stroke="#444" stroke-width="1.1"/>
<path d="M762.7,154 L762.7,127.4 Q762.7,124.4 765.7,124.4 L793.3,124.4 L793.3,128 L799.8,128 L799.8,131 L802.6,131 L802.6,139.6 L776.7,139.6 L776.7,130.4 L770.9,130.4 L770.9,154 Z" fill="#1a1a1a" stroke="#1a1a1a" stroke-width="0.8" stroke-linejoin="miter" stroke-linecap="butt"/>
<path d="M766.6,150.5 L766.6,129 Q766.6,127.6 768,127.6 L776,127.6" fill="none" stroke="#c8c8c8" stroke-width="0.9" stroke-linejoin="miter" stroke-linecap="butt"/>
<rect x="781" y="131.6" width="8" height="4.4" fill="#fff"/>
<rect x="791.8" y="131.6" width="8" height="3.8" fill="#fff"/>
<line x1="785" y1="131.6" x2="785" y2="136" stroke="#777" stroke-width="0.9" stroke-linecap="butt"/>
<rect x="823.2" y="153" width="32" height="61" fill="#fff"/>
<line x1="821" y1="154.4" x2="846" y2="154.4" stroke="#1a1a1a" stroke-width="3.4" stroke-linecap="butt"/>
<line x1="821" y1="211.6" x2="846" y2="211.6" stroke="#1a1a1a" stroke-width="3.6" stroke-linecap="butt"/>
<line x1="827" y1="156" x2="827" y2="209.8" stroke="#222" stroke-width="1.5" stroke-linecap="butt"/>
<line x1="831.3" y1="156" x2="831.3" y2="209.8" stroke="#222" stroke-width="1.5" stroke-linecap="butt"/>
<line x1="835.6" y1="156" x2="835.6" y2="209.8" stroke="#222" stroke-width="1.5" stroke-linecap="butt"/>
<line x1="839.8" y1="156" x2="839.8" y2="209.8" stroke="#222" stroke-width="1.5" stroke-linecap="butt"/>
<line x1="844.1" y1="156" x2="844.1" y2="209.8" stroke="#222" stroke-width="1.5" stroke-linecap="butt"/>
<line x1="847.6" y1="153.4" x2="847.6" y2="213.4" stroke="#222" stroke-width="1.2" stroke-linecap="butt"/>
<rect x="845.2" y="149.6" width="10.6" height="3.8" fill="#1a1a1a"/>
<rect x="845.2" y="213.4" width="10.6" height="3.4" fill="#1a1a1a"/>
<rect x="851.4" y="149.6" width="4.5" height="67.2" fill="#1a1a1a"/>
<rect x="855.6" y="152.8" width="2.9" height="8.6" fill="#1a1a1a"/>
<rect x="855.6" y="204.5" width="2.9" height="9" fill="#1a1a1a"/>
<line x1="850.8" y1="157.2" x2="853.8" y2="157.2" stroke="#fff" stroke-width="1.3" stroke-linecap="butt"/>
<line x1="850.8" y1="209.2" x2="853.8" y2="209.2" stroke="#fff" stroke-width="1.3" stroke-linecap="butt"/>
<line x1="684.3" y1="183.3" x2="864" y2="183.3" stroke="#1a1a1a" stroke-width="1.7" stroke-dasharray="21.5 6.7 2.4 6.6"/>
<rect x="790" y="451.3" width="83.2" height="13" fill="#1a1a1a"/>
<g stroke="#fff" stroke-width="1.5"><line x1="794.3" y1="455.4" x2="795.6" y2="460.8" /><line x1="797.6" y1="455.4" x2="798.9" y2="460.8" /><line x1="800.9" y1="455.4" x2="802.2" y2="460.8" /><line x1="821.6" y1="455.4" x2="822.9" y2="460.8" /><line x1="824.9" y1="455.4" x2="826.2" y2="460.8" /><line x1="828.2" y1="455.4" x2="829.5" y2="460.8" /><line x1="831.5" y1="455.4" x2="832.8" y2="460.8" /><line x1="834.8" y1="455.4" x2="836.1" y2="460.8" /><line x1="838.1" y1="455.4" x2="839.4" y2="460.8" /><line x1="841.4" y1="455.4" x2="842.7" y2="460.8" /><line x1="844.7" y1="455.4" x2="846.0" y2="460.8" /><line x1="848.0" y1="455.4" x2="849.3" y2="460.8" /><line x1="851.3" y1="455.4" x2="852.6" y2="460.8" /><line x1="854.6" y1="455.4" x2="855.9" y2="460.8" /><line x1="857.9" y1="455.4" x2="859.2" y2="460.8" /><line x1="861.2" y1="455.4" x2="862.5" y2="460.8" /><line x1="864.5" y1="455.4" x2="865.8" y2="460.8" /><line x1="867.8" y1="455.4" x2="869.1" y2="460.8" /></g>
<rect x="804.6" y="450.5" width="14.4" height="14.6" fill="#fff"/>
<path d="M823,430 Q828.2,430.2 828.2,436.5 L828.2,452" fill="none" stroke="#1a1a1a" stroke-width="3.8" stroke-linejoin="miter" stroke-linecap="butt"/>
<path d="M823.3,475.6 L827.5,475.6 Q829.3,476 829.3,478 L829.3,518.6 Q829.3,520.6 827.5,521 L823.3,521 Z" fill="#dedede" stroke="#333" stroke-width="1.2" stroke-linejoin="miter" stroke-linecap="butt"/>
<path d="M829.3,478.6 L832,478.6 L832,518 L829.3,518" fill="#ececec" stroke="#444" stroke-width="1.1" stroke-linejoin="miter" stroke-linecap="butt"/>
<circle cx="811.8" cy="574.8" r="3.8" fill="#fff" stroke="#1a1a1a" stroke-width="1.5"/>
<circle cx="811.8" cy="574.8" r="1.6" fill="#fff" stroke="#1a1a1a" stroke-width="1.1"/>
<rect x="804.9" y="579.4" width="13.8" height="6.4" fill="#1a1a1a"/>
<rect x="806.4" y="580.6" width="2.6" height="2.4" fill="#fff"/>
<rect x="810.6" y="580.6" width="2.6" height="2.4" fill="#fff"/>
<rect x="814.8" y="580.6" width="2.6" height="2.4" fill="#fff"/>
<line x1="805.5" y1="584.6" x2="818.4" y2="584.6" stroke="#ddd" stroke-width="1" stroke-linecap="butt"/>
<path d="M835.2,429.2 L835.2,419.6 L1008,419.6 Q1016.4,419.8 1016.6,428" fill="none" stroke="#1a1a1a" stroke-width="1.7" stroke-linejoin="miter" stroke-linecap="butt" stroke-dasharray="7.4 4"/>
<line x1="835.2" y1="429.2" x2="1016.6" y2="429.2" stroke="#1a1a1a" stroke-width="1.7" stroke-dasharray="6.8 4.5" stroke-linecap="butt"/>
<line x1="831.2" y1="433.5" x2="1016.8" y2="433.5" stroke="#1a1a1a" stroke-width="1.7" stroke-dasharray="6.8 4.5" stroke-linecap="butt"/>
<path d="M1017,434 L1017.4,445 C1017,470 1000,494 978.6,503.4" fill="none" stroke="#1a1a1a" stroke-width="1.7" stroke-linejoin="miter" stroke-linecap="butt" stroke-dasharray="7.2 4.4"/>
<line x1="883.7" y1="457.2" x2="992" y2="457.2" stroke="#1a1a1a" stroke-width="1.7" stroke-dasharray="6.8 4.5" stroke-linecap="butt"/>
<line x1="840.6" y1="503.5" x2="979" y2="503.5" stroke="#1a1a1a" stroke-width="1.7" stroke-dasharray="10 4" stroke-linecap="butt"/>
<line x1="978.4" y1="503.5" x2="978.4" y2="556.8" stroke="#1a1a1a" stroke-width="1.7" stroke-dasharray="10 4" stroke-linecap="butt"/>
<line x1="827.6" y1="556.8" x2="979" y2="556.8" stroke="#1a1a1a" stroke-width="1.7" stroke-dasharray="10 4" stroke-linecap="butt"/>
<line x1="593" y1="110" x2="777" y2="110" stroke="#1a1a1a" stroke-width="1.8" stroke-linecap="butt"/>
<line x1="651.8" y1="110" x2="762" y2="119.4" stroke="#1a1a1a" stroke-width="1.8" stroke-linecap="butt"/>
<line x1="651.8" y1="110" x2="774.5" y2="149" stroke="#1a1a1a" stroke-width="1.8" stroke-linecap="butt"/>
<text x="591.2" y="99.4" font-size="34">G<tspan font-size="18.5" dy="-9.8" dx="-0.2">1</tspan><tspan font-size="34.5" dy="10" dx="0" rotate="5">/</tspan><tspan font-size="19.5" dy="-0.3" dx="1.6">2</tspan></text>
<line x1="765.5" y1="78.6" x2="765.5" y2="116.6" stroke="#1a1a1a" stroke-width="1.8" stroke-linecap="butt"/>
<line x1="725.2" y1="84.9" x2="745" y2="84.9" stroke="#1a1a1a" stroke-width="1.8" stroke-linecap="butt"/>
<line x1="744.40" y1="84.90" x2="736.40" y2="84.90" stroke="#1a1a1a" stroke-width="1.8"/>
<polygon points="764.40,84.90 741.40,91.50 742.60,84.90 741.40,78.30" fill="#1a1a1a"/>
<text y="66.6" font-size="42.5"><tspan x="670">90</tspan><tspan x="722">-</tspan><tspan x="739">110</tspan></text>
<line x1="819.9" y1="85" x2="819.9" y2="116.8" stroke="#1a1a1a" stroke-width="1.8" stroke-linecap="butt"/>
<line x1="810.5" y1="84.7" x2="828.7" y2="84.7" stroke="#1a1a1a" stroke-width="1.8" stroke-linecap="butt"/>
<circle cx="820" cy="84.6" r="3.7" fill="#1a1a1a" stroke="#1a1a1a" stroke-width="1"/>
<line x1="852.2" y1="78.6" x2="852.2" y2="143.5" stroke="#1a1a1a" stroke-width="1.8" stroke-linecap="butt"/>
<line x1="873" y1="84.9" x2="892" y2="84.9" stroke="#1a1a1a" stroke-width="1.8" stroke-linecap="butt"/>
<line x1="873.80" y1="84.90" x2="881.80" y2="84.90" stroke="#1a1a1a" stroke-width="1.8"/>
<polygon points="853.80,84.90 876.80,78.30 875.60,84.90 876.80,91.50" fill="#1a1a1a"/>
<text x="854.20" y="66.96" font-size="42.5" text-anchor="middle" letter-spacing="-1.2">75</text>
<line x1="688.6" y1="205" x2="688.6" y2="344.8" stroke="#1a1a1a" stroke-width="1.8" stroke-linecap="butt"/>
<line x1="688.60" y1="205.60" x2="688.60" y2="213.60" stroke="#1a1a1a" stroke-width="1.8"/>
<polygon points="688.60,185.60 695.20,208.60 688.60,207.40 682.00,208.60" fill="#1a1a1a"/>
<line x1="688.6" y1="422.3" x2="688.6" y2="565" stroke="#1a1a1a" stroke-width="1.8" stroke-linecap="butt"/>
<line x1="688.60" y1="565.20" x2="688.60" y2="557.20" stroke="#1a1a1a" stroke-width="1.8"/>
<polygon points="688.60,585.20 682.00,562.20 688.60,563.40 695.20,562.20" fill="#1a1a1a"/>
<text x="688.95" y="398.00" font-size="42.5" text-anchor="middle">1000</text>
</svg>
</body>
</html>
